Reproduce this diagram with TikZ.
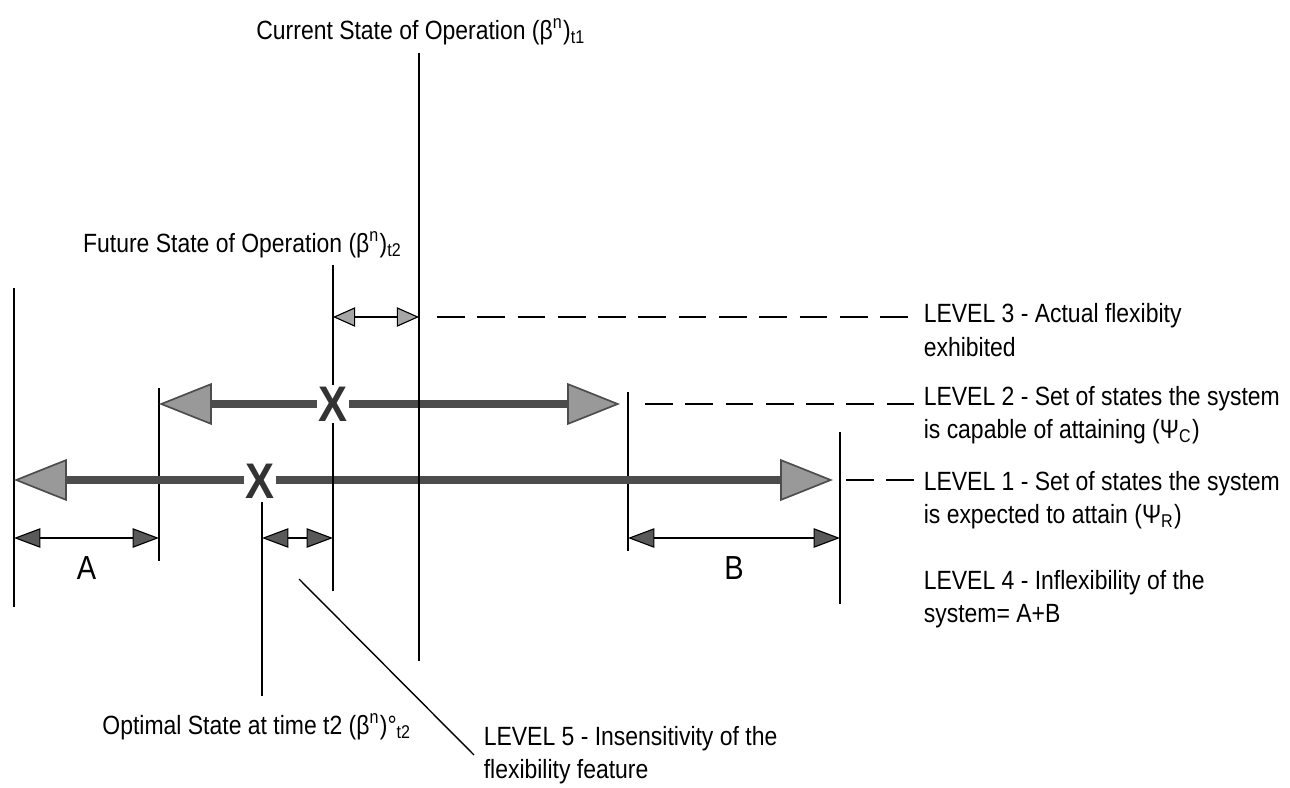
\documentclass[tikz,border=0pt]{standalone}
\usepackage{fontspec}
\setmainfont{Liberation Sans}[FakeStretch=0.87]
\usetikzlibrary{arrows.meta}

\begin{document}
\begin{tikzpicture}[x=0.36pt, y=-0.36pt, font=\fontsize{9.5}{12}\selectfont,
    bound/.style={line width=0.7pt},
    bigarrow/.style={line width=2.6pt, draw=black!70, <->,
      >={Triangle[length=19pt, width=15pt, fill=black!40, line width=0.6pt]}},
    dimarrow/.style={line width=0.6pt, <->,
      >={Triangle[length=9.5pt, width=7pt, fill=black!65, line width=0.4pt]}},
    smallarrow/.style={line width=0.5pt, <->,
      >={Triangle[length=8pt, width=7pt, fill=black!35, line width=0.4pt]}},
    leader/.style={line width=0.7pt, dash pattern=on 10pt off 4.5pt},
    lvltext/.style={anchor=west, align=left},
    crossmark/.style={fill=white, inner sep=0.5pt, text=black!80,
      font=\bfseries\fontsize{18}{18}\selectfont}]
\useasboundingbox (0,0) rectangle (1290,788);

% heights of the three levels and of the dimensions
\path (0,317) coordinate (y3) (0,404) coordinate (y2) (0,480) coordinate (y1)
      (0,538) coordinate (yd);

% limits of the two sets of states
\draw[bound] (14,288) coordinate (eL) -- (14,607);
\draw[bound] (159,388) coordinate (cL) -- (159,561);
\draw[bound] (628,392) coordinate (cR) -- (628,551);
\draw[bound] (840,432) coordinate (eR) -- (840,604);

% level 1 and level 2
\draw[bigarrow] (eL |- y1) -- (833,480);
\draw[bigarrow] (cL |- y2) -- (620,404);

% states of operation
\node (now) at (421,32) {Current State of Operation (β\textsuperscript{n})\textsubscript{t1}};
\draw[bound] (419,53) coordinate (cur) -- (419,661);
\node[anchor=east] (future) at (412,245) {Future State of Operation (β\textsuperscript{n})\textsubscript{t2}};
\draw[bound] (333,265) coordinate (fut) -- (333,591);
\node (optimal) at (257,727) {Optimal State at time t2 (β\textsuperscript{n})°\textsubscript{t2}};
\draw[bound] (262,502) coordinate (opt) -- (262,696);

% level 3
\draw[smallarrow] (fut |- y3) -- (cur |- y3);

% inflexibility A + B and insensitivity
\draw[dimarrow] (eL |- yd) -- (cL |- yd) node[midway, below=3pt] (A) {\large A};
\draw[dimarrow] (cR |- yd) -- (eR |- yd) node[midway, below=3pt] (B) {\large B};
\draw[dimarrow] (opt |- yd) -- (fut |- yd);

\node[crossmark] (x2) at (fut |- y2) {X};
\node[crossmark] (x1) at (260,481) {X};

% texts of the levels
\node[lvltext] (lvl3) at (914,330) {LEVEL 3 - Actual flexibity\\exhibited};
\node[lvltext] (lvl2) at (914,415) {LEVEL 2 - Set of states the system\\is capable of attaining (Ψ\textsubscript{C})};
\node[lvltext] (lvl1) at (914,500) {LEVEL 1 - Set of states the system\\is expected to attain (Ψ\textsubscript{R})};
\node[lvltext] (lvl4) at (914,599) {LEVEL 4 - Inflexibility of the\\system= A+B};
\node[lvltext] (lvl5) at (474,755) {LEVEL 5 - Insensitivity of the\\flexibility feature};

\draw[leader] (cur |- y3) ++(18,0) -- (lvl3.west |- y3);
\draw[leader] (cR |- y2) ++(17,0) -- (lvl2.west |- y2);
\draw[leader] (eR |- y1) ++(6,0) -- (lvl1.west |- y1);
\draw[line width=0.5pt] (299,579) coordinate (lead5) -- (lvl5.west);

\end{tikzpicture}
\end{document}
